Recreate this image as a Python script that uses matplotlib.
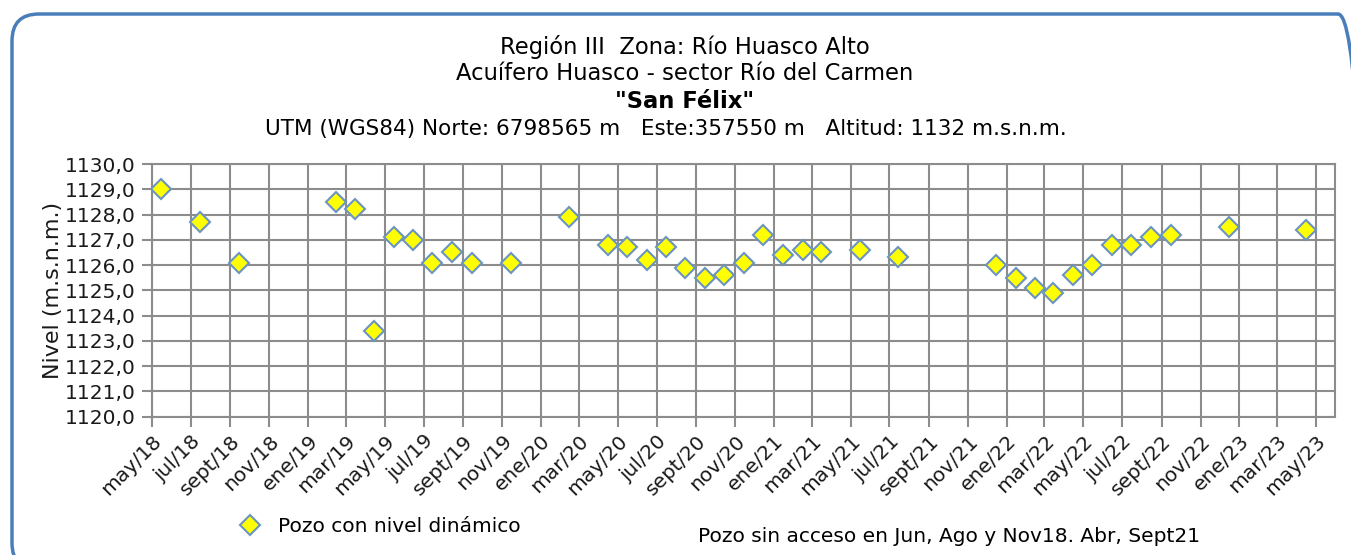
import numpy as np
import pandas as pd
import matplotlib
matplotlib.use("Agg")
import matplotlib.pyplot as plt
from matplotlib.patches import FancyBboxPatch
from matplotlib.transforms import IdentityTransform

fechas = ["2018-05-15", "2018-07-15", "2018-09-15",
          "2019-02-14", "2019-03-15", "2019-04-15", "2019-05-15", "2019-06-15",
          "2019-07-15", "2019-08-15", "2019-09-15", "2019-11-15",
          "2020-02-14", "2020-04-15", "2020-05-15", "2020-06-15", "2020-07-15",
          "2020-08-15", "2020-09-15", "2020-10-15", "2020-11-15", "2020-12-15",
          "2021-01-15", "2021-02-15", "2021-03-15", "2021-05-15", "2021-07-15",
          "2021-12-15", "2022-01-15", "2022-02-15", "2022-03-15", "2022-04-15",
          "2022-05-15", "2022-06-15", "2022-07-15", "2022-08-15", "2022-09-15",
          "2022-12-15", "2023-04-15"]
nivel = [1129.0, 1127.7, 1126.1,
         1128.5, 1128.2, 1123.4, 1127.1, 1127.0,
         1126.1, 1126.5, 1126.1, 1126.1,
         1127.9, 1126.8, 1126.7, 1126.2, 1126.7,
         1125.9, 1125.5, 1125.6, 1126.1, 1127.2,
         1126.4, 1126.6, 1126.5, 1126.6, 1126.3,
         1126.0, 1125.5, 1125.1, 1124.9, 1125.6,
         1126.0, 1126.8, 1126.8, 1127.1, 1127.2,
         1127.5, 1127.4]

meses = ["ene", "feb", "mar", "abr", "may", "jun", "jul", "ago", "sept", "oct", "nov", "dic"]
titulo = ["Región III  Zona: Río Huasco Alto",
          "Acuífero Huasco - sector Río del Carmen"]
subtitulo = "UTM (WGS84) Norte: 6798565 m   Este:357550 m   Altitud: 1132 m.s.n.m."
nota = "Pozo sin acceso en Jun, Ago y Nov18. Abr, Sept21"

fechas = pd.to_datetime(fechas)
fs = 14.5
fs_tit = 16.3

fig = plt.figure(figsize=(13.51, 5.55), dpi=100)

# marco redondeado (en pixeles)
borde = FancyBboxPatch((12, -15), 1353, 556,
                       boxstyle="round,pad=0,rounding_size=27",
                       transform=IdentityTransform(), facecolor="none", zorder=-1,
                       edgecolor="#4a7ebb", linewidth=2.5)
fig.patches.append(borde)

ax = fig.add_axes([152 / 1351, 1 - 416.7 / 555, (1335 - 152) / 1351, (416.7 - 164) / 555])
ax.plot(fechas, nivel, linestyle="none", marker="D", markersize=10,
        markerfacecolor="#ffff00", markeredgecolor="#6b95c0", markeredgewidth=1.5,
        label="Pozo con nivel dinámico", zorder=3)

ax.set_ylim(1120, 1130)
ax.set_yticks(np.arange(1120, 1131, 1))
ax.set_yticklabels([f"{v:.1f}".replace(".", ",") for v in np.arange(1120, 1131, 1)])
ax.set_xlim(pd.Timestamp("2018-05-01"), pd.Timestamp("2023-05-31"))
ticks = pd.date_range("2018-05-01", "2023-05-01", freq="2MS")
ax.set_xticks(ticks)
ax.set_xticklabels([f"{meses[t.month - 1]}/{t.year % 100:02d}" for t in ticks],
                   rotation=45, ha="right", rotation_mode="anchor")

ax.grid(True, color="#8c8c8c", linewidth=1.5)
ax.set_axisbelow(True)
for s in ax.spines.values():
    s.set_color("#8c8c8c")
    s.set_linewidth(1.5)
ax.tick_params(axis="both", colors="#8c8c8c", length=7, width=1.5, labelsize=fs,
               labelcolor="#1a1a1a")
ax.tick_params(axis="y", pad=5)
ax.set_ylabel("Nivel (m.s.n.m.)", fontsize=16, color="#1a1a1a")
ax.yaxis.set_label_coords(-89 / 1183, 0.5)

fig.text(0.507, 1 - 47 / 555, titulo[0], ha="center", va="center", fontsize=fs_tit)
fig.text(0.507, 1 - 74 / 555, titulo[1], ha="center", va="center", fontsize=fs_tit)
fig.text(0.507, 1 - 101 / 555, '"San Félix"', ha="center", va="center", fontsize=fs_tit,
         fontweight="bold")
fig.text(666 / 1351, 1 - 129 / 555, subtitulo, ha="center", va="center", fontsize=15.5)

fig.legend(loc="center left", bbox_to_anchor=(212 / 1351, 1 - 527 / 555), frameon=False,
           fontsize=fs, handletextpad=0.4, numpoints=1)
fig.text(698 / 1351, 1 - 536 / 555, nota, ha="left", va="center", fontsize=fs)

fig.savefig("out.png", dpi=100)
